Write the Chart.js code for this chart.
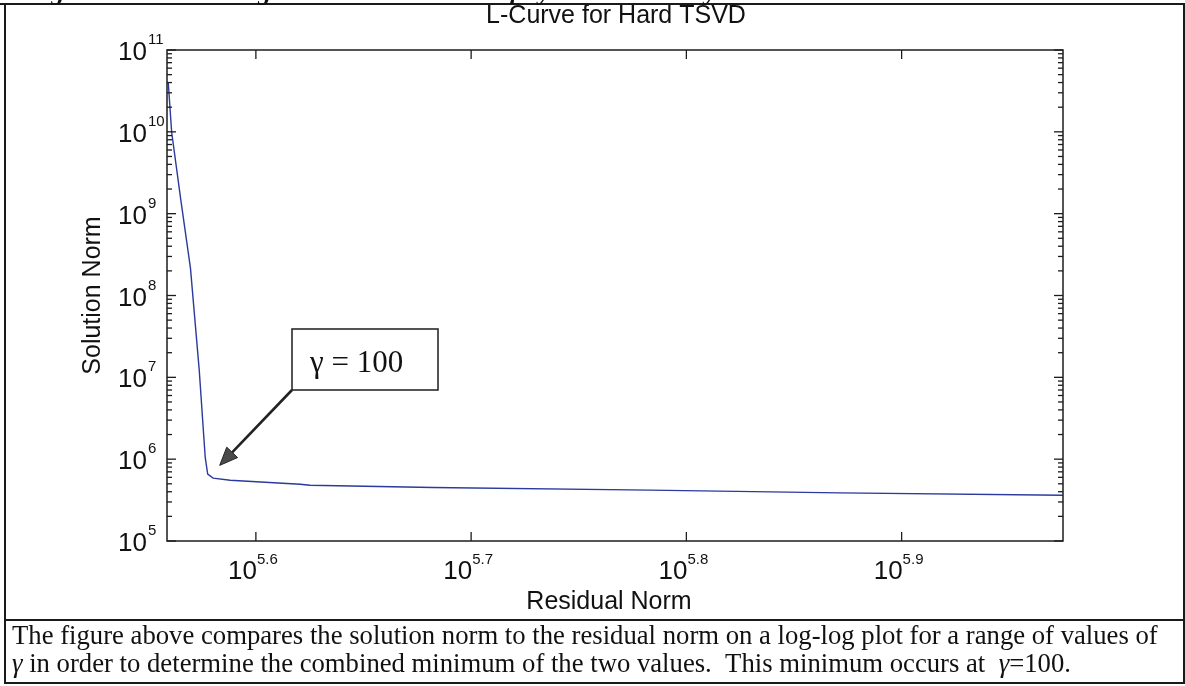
<!DOCTYPE html>
<html><head><meta charset="utf-8">
<script src="https://cdn.jsdelivr.net/npm/chart.js@4/dist/chart.umd.min.js"></script>
<style>html,body{margin:0;padding:0;background:#fff}#wrap{width:1185px;height:686px;position:relative}</style>
</head><body><div id="wrap"><canvas id="c"></canvas></div>
<script>
// ---- data ----
const residualNorm = [3.625e5, 3.638e5, 3.674e5, 3.712e5, 3.747e5, 3.771e5, 3.781e5, 3.803e5, 3.873e5, 4.174e5, 4.219e5, 4.811e5, 6.067e5, 7.434e5, 9.438e5];
const solutionNorm = [3.95e10, 9.95e9, 1.466e9, 2.163e8, 1.225e7, 1.057e6, 6.56e5, 5.86e5, 5.53e5, 4.94e5, 4.81e5, 4.51e5, 4.18e5, 3.87e5, 3.63e5];
const xTickExponents = ['5.6', '5.7', '5.8', '5.9'];
const yTickExponents = ['5', '6', '7', '8', '9', '10', '11'];
const xLimits = [3.620e5, 9.440e5];
const yLimits = [1e5, 1e11];
const chartTitle = 'L-Curve for Hard TSVD';
const xTitle = 'Residual Norm';
const yTitle = 'Solution Norm';
const annotationText = 'γ = 100';
const annotationTip = [3.83e5, 8.4e5];
const headingText = 'Figure 4: Determining the Truncation Level γ by L-Curve Analysis';
const captionLine1 = 'The figure above compares the solution norm to the residual norm on a log-log plot for a range of values of';
const captionLine2 = [['γ', true], [' in order to determine the combined minimum of the two values.  This minimum occurs at  ', false], ['γ', true], ['=100.', false]];

const SANS = '"Liberation Sans", Arial, sans-serif';
const SERIF = '"Liberation Serif", "Times New Roman", serif';

function line(ctx, x1, y1, x2, y2) { ctx.beginPath(); ctx.moveTo(x1, y1); ctx.lineTo(x2, y2); ctx.stroke(); }

const decor = {
  id: 'decor',
  beforeDraw(chart) {
    const ctx = chart.ctx;
    ctx.save(); ctx.fillStyle = '#fff'; ctx.fillRect(0, 0, chart.width, chart.height); ctx.restore();
  },
  afterDraw(chart) {
    const ctx = chart.ctx, a = chart.chartArea, xs = chart.scales.x, ys = chart.scales.y;
    ctx.save();
    ctx.strokeStyle = '#1c1c1c'; ctx.fillStyle = '#111';
    // plot frame
    ctx.lineWidth = 1.5;
    ctx.strokeRect(a.left, a.top, a.right - a.left, a.bottom - a.top);
    // ticks
    ctx.lineWidth = 1.3;
    xs.ticks.forEach(t => {
      const px = xs.getPixelForValue(t.value);
      line(ctx, px, a.bottom, px, a.bottom - 9);
      line(ctx, px, a.top, px, a.top + 9);
    });
    ys.ticks.forEach(t => {
      const py = ys.getPixelForValue(t.value);
      const L = t.major ? 9 : 5;
      line(ctx, a.left, py, a.left + L, py);
      line(ctx, a.right, py, a.right - L, py);
    });
    // tick labels
    ctx.textBaseline = 'alphabetic';
    xs.ticks.forEach(t => {
      const px = xs.getPixelForValue(t.value);
      ctx.font = '26px ' + SANS; ctx.textAlign = 'right';
      ctx.fillText('10', px + 1, a.bottom + 38);
      ctx.font = '15px ' + SANS; ctx.textAlign = 'left';
      ctx.fillText(t.exp, px + 1, a.bottom + 23);
    });
    ys.ticks.filter(t => t.major).forEach(t => {
      const py = ys.getPixelForValue(t.value);
      ctx.font = '26px ' + SANS; ctx.textAlign = 'right';
      ctx.fillText('10', a.left - 20, py + 10);
      ctx.font = '15px ' + SANS; ctx.textAlign = 'left';
      ctx.fillText(t.exp, a.left - 19, py - 6);
    });
    // titles
    ctx.font = '25px ' + SANS; ctx.textAlign = 'center';
    ctx.fillText(chartTitle, (a.left + a.right) / 2 + 1, 23);
    ctx.fillText(xTitle, (a.left + a.right) / 2 - 6, a.bottom + 68);
    ctx.save(); ctx.translate(100, (a.top + a.bottom) / 2); ctx.rotate(-Math.PI / 2);
    ctx.fillText(yTitle, 0, 0); ctx.restore();
    // annotation box + arrow
    const bx = 292, by = 329, bw = 146, bh = 61;
    ctx.lineWidth = 1.5; ctx.strokeStyle = '#1c1c1c';
    ctx.strokeRect(bx, by, bw, bh);
    ctx.font = '31px ' + SERIF; ctx.textAlign = 'left';
    ctx.fillText(annotationText, bx + 18, by + 43);
    const tx = xs.getPixelForValue(annotationTip[0]), ty = ys.getPixelForValue(annotationTip[1]);
    const sx = bx, sy = by + bh;
    const ang = Math.atan2(ty - sy, tx - sx), hl = 18, hw = 7.5;
    const bxh = tx - hl * Math.cos(ang), byh = ty - hl * Math.sin(ang);
    ctx.lineWidth = 2.6; ctx.strokeStyle = '#222';
    line(ctx, sx, sy, bxh, byh);
    ctx.fillStyle = '#4a4a4a'; ctx.strokeStyle = '#222'; ctx.lineWidth = 1;
    ctx.beginPath();
    ctx.moveTo(tx, ty);
    ctx.lineTo(bxh + hw * Math.sin(ang), byh - hw * Math.cos(ang));
    ctx.lineTo(bxh - hw * Math.sin(ang), byh + hw * Math.cos(ang));
    ctx.closePath(); ctx.fill(); ctx.stroke();
    // figure borders
    ctx.strokeStyle = '#1a1a1a'; ctx.lineWidth = 2;
    line(ctx, 0, 4, 1185, 4);
    line(ctx, 5, 4, 5, 684);
    line(ctx, 1184, 4, 1184, 684);
    line(ctx, 5, 620, 1185, 620);
    line(ctx, 5, 683, 1185, 683);
    // clipped heading at very top
    ctx.fillStyle = '#111';
    ctx.font = 'italic bold 26px ' + SERIF; ctx.textAlign = 'left';
    ctx.fillText(headingText, 27, 0);
    // caption
    ctx.font = '100px ' + SERIF;
    const w1 = ctx.measureText(captionLine1).width;
    const fs = 100 * 1146 / w1;
    ctx.font = fs + 'px ' + SERIF;
    ctx.fillText(captionLine1, 12, 644);
    let cx = 12;
    captionLine2.forEach(([txt, it]) => {
      ctx.font = (it ? 'italic ' : '') + fs + 'px ' + SERIF;
      ctx.fillText(txt, cx, 672);
      cx += ctx.measureText(txt).width;
    });
    ctx.restore();
  }
};

const points = residualNorm.map((r, i) => ({ x: r, y: solutionNorm[i] }));

new Chart(document.getElementById('c'), {
  type: 'line',
  data: { datasets: [{ data: points, borderColor: '#2b3a9c', borderWidth: 1.4, pointRadius: 0, tension: 0, fill: false }] },
  options: {
    responsive: true, maintainAspectRatio: false, animation: false,
    layout: { padding: { left: 167, right: 122, top: 50, bottom: 145 } },
    plugins: { legend: { display: false }, tooltip: { enabled: false }, title: { display: false } },
    scales: {
      x: {
        type: 'logarithmic', min: xLimits[0], max: xLimits[1],
        grid: { display: false, drawTicks: false }, border: { display: false },
        ticks: { display: false },
        afterBuildTicks: s => { s.ticks = xTickExponents.map(e => ({ value: Math.pow(10, parseFloat(e)), exp: e, major: true })); }
      },
      y: {
        type: 'logarithmic', min: yLimits[0], max: yLimits[1],
        grid: { display: false, drawTicks: false }, border: { display: false },
        ticks: { display: false },
        afterBuildTicks: s => {
          const t = [];
          yTickExponents.forEach((e, i) => {
            const base = Math.pow(10, parseInt(e));
            t.push({ value: base, exp: e, major: true });
            if (i < yTickExponents.length - 1) for (let m = 2; m <= 9; m++) t.push({ value: m * base, exp: '', major: false });
          });
          s.ticks = t;
        }
      }
    }
  },
  plugins: [decor]
});
</script>
</body></html>
